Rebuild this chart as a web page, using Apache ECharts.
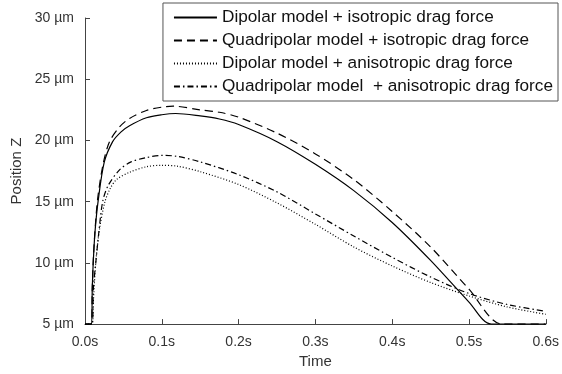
<!DOCTYPE html>
<html>
<head>
<meta charset="utf-8">
<script src="https://cdn.jsdelivr.net/npm/echarts@6/dist/echarts.min.js"></script>
<style>html,body{margin:0;padding:0;background:#fff;}#c{width:562px;height:374px;}</style>
</head>
<body>
<div id="c"></div>
<script>
var seriesNames = [
  'Dipolar model + isotropic drag force',
  'Quadripolar model + isotropic drag force',
  'Dipolar model + anisotropic drag force',
  'Quadripolar model  + anisotropic drag force'
];
var tDipIso = [0, 0.008, 0.0095, 0.0107, 0.013, 0.017, 0.025, 0.036, 0.047, 0.058, 0.08, 0.1, 0.118, 0.15, 0.175, 0.2, 0.25, 0.3, 0.35, 0.4, 0.45, 0.5, 0.529, 0.6];
var zDipIso = [5, 5, 8, 10, 12.5, 15, 18.2, 19.9, 20.7, 21.2, 21.85, 22.1, 22.2, 22.0, 21.75, 21.3, 19.9, 18.05, 15.9, 13.3, 10.2, 6.8, 5, 5];
var tQuadIso = [0, 0.008, 0.0095, 0.011, 0.014, 0.017, 0.024, 0.032, 0.045, 0.058, 0.08, 0.1, 0.115, 0.15, 0.175, 0.2, 0.25, 0.3, 0.35, 0.4, 0.45, 0.5, 0.543, 0.6];
var zQuadIso = [5, 5, 8, 10.5, 13.5, 15.5, 18.2, 19.9, 21.1, 21.8, 22.45, 22.72, 22.8, 22.5, 22.3, 21.9, 20.6, 18.9, 16.8, 14.2, 11.3, 7.85, 5, 5];
var tDipAniso = [0, 0.009, 0.011, 0.014, 0.019, 0.026, 0.033, 0.041, 0.058, 0.08, 0.1, 0.12, 0.15, 0.2, 0.25, 0.3, 0.35, 0.4, 0.45, 0.5, 0.55, 0.6];
var zDipAniso = [5, 5, 7, 10, 12.8, 15, 16.1, 16.8, 17.4, 17.85, 17.97, 17.9, 17.45, 16.4, 14.9, 13.15, 11.3, 9.75, 8.4, 7.3, 6.4, 5.8];
var tQuadAniso = [0, 0.009, 0.011, 0.014, 0.018, 0.023, 0.03, 0.045, 0.06, 0.08, 0.1, 0.12, 0.15, 0.2, 0.25, 0.3, 0.35, 0.4, 0.45, 0.5, 0.55, 0.6];
var zQuadAniso = [5, 5, 8, 10, 12.5, 15, 16.3, 17.6, 18.25, 18.6, 18.78, 18.7, 18.25, 17.2, 15.8, 14.0, 12.2, 10.45, 8.85, 7.5, 6.6, 6.05];
var xTicks = [0, 0.1, 0.2, 0.3, 0.4, 0.5, 0.6];
var yTicks = [5, 10, 15, 20, 25, 30];

function zip(t, z) { return t.map(function (v, i) { return [v, z[i]]; }); }
var dashes = ['solid', [8, 5], [1, 2], [6, 3, 1.5, 3]];
var dataSets = [zip(tDipIso, zDipIso), zip(tQuadIso, zQuadIso), zip(tDipAniso, zDipAniso), zip(tQuadAniso, zQuadAniso)];

var chart = echarts.init(document.getElementById('c'), null, {renderer: 'canvas'});
var font = 'Liberation Sans, Arial, sans-serif';
chart.setOption({
  animation: false,
  backgroundColor: '#fff',
  textStyle: {fontFamily: font},
  grid: {left: 85, right: 10, top: 18, bottom: 48, containLabel: false},
  legend: {
    orient: 'vertical', right: 4, top: 3,
    padding: [6, 5, 6, 10],
    itemWidth: 43, itemHeight: 14, itemGap: 6,
    borderColor: '#555', borderWidth: 1, backgroundColor: '#fff',
    itemStyle: {opacity: 0},
    textStyle: {fontSize: 17.2, color: '#111', fontFamily: font},
    data: seriesNames
  },
  xAxis: {
    type: 'value', min: xTicks[0], max: xTicks[xTicks.length - 1], interval: 0.1,
    name: 'Time', nameLocation: 'middle', nameGap: 29,
    nameTextStyle: {fontSize: 15, color: '#333', fontFamily: font},
    axisLine: {show: true, lineStyle: {color: '#444', width: 1}},
    axisTick: {show: true, inside: true, length: 5, lineStyle: {color: '#444'}},
    axisLabel: {fontSize: 14, color: '#333', margin: 11, fontFamily: font,
      formatter: function (v) { return v.toFixed(1) + 's'; }},
    splitLine: {show: false}
  },
  yAxis: {
    type: 'value', min: yTicks[0], max: yTicks[yTicks.length - 1], interval: 5,
    name: 'Position Z', nameLocation: 'middle', nameGap: 60,
    nameTextStyle: {fontSize: 15, color: '#333', fontFamily: font},
    axisLine: {show: true, lineStyle: {color: '#444', width: 1}},
    axisTick: {show: true, inside: true, length: 5, lineStyle: {color: '#444'}},
    axisLabel: {fontSize: 14, color: '#333', margin: 11, fontFamily: font,
      formatter: function (v) { return v + ' µm'; }},
    splitLine: {show: false}
  },
  series: seriesNames.map(function (n, i) {
    return {
      name: n, type: 'line', data: dataSets[i],
      symbol: 'none', showSymbol: false,
      smooth: 0.3, clip: true,
      lineStyle: {color: '#000', width: 1.2, type: dashes[i]},
      itemStyle: {color: '#000'}
    };
  })
});
</script>
</body>
</html>
